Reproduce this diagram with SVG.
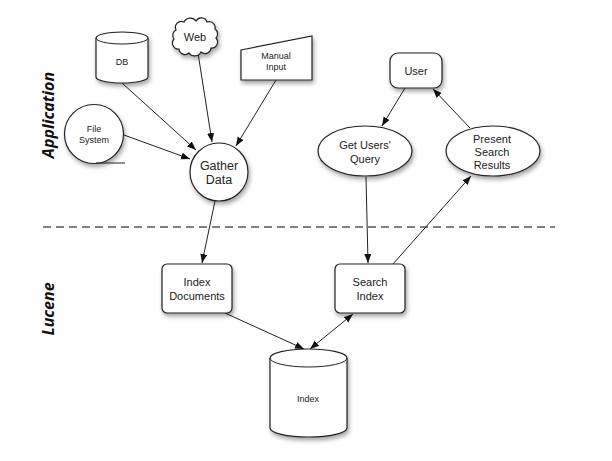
<svg xmlns="http://www.w3.org/2000/svg" width="612" height="461" viewBox="0 0 612 461">
<style>
.shape{fill:#fff;stroke:#222;stroke-width:1.2;filter:url(#sh)}
.line{fill:none;stroke:#222;stroke-width:1}
.arr{marker-end:url(#ah)}
.t{font-family:"Liberation Sans",Arial,sans-serif;fill:#222;text-anchor:middle}
.s9{font-size:9px}
.s11{font-size:11px}
.s12{font-size:12.5px}
.lane{font-family:"Noto Sans","DejaVu Sans",sans-serif;font-weight:bold;font-style:italic;font-size:16px;fill:#111;text-anchor:middle}
</style>
<defs>
<filter id="sh" x="-30%" y="-30%" width="160%" height="160%">
<feDropShadow dx="1.5" dy="3" stdDeviation="2" flood-color="#000" flood-opacity="0.35"/>
</filter>
<marker id="ah" markerUnits="userSpaceOnUse" markerWidth="10" markerHeight="8" refX="9" refY="3.5" orient="auto-start-reverse">
<path d="M0,0 L9,3.5 L0,7 z" fill="#111"/>
</marker>
</defs>
<rect width="612" height="461" fill="#fff"/>

<text class="lane" transform="translate(54,115) rotate(-90)">Application</text>
<text class="lane" transform="translate(54,309) rotate(-90)">Lucene</text>
<line x1="43" y1="227" x2="555" y2="227" stroke="#555" stroke-width="1.3" stroke-dasharray="8,5"/>

<g id="connectors">
<line class="line arr" x1="122" y1="83" x2="196" y2="150"/>
<line class="line arr" x1="198" y1="53" x2="212" y2="142"/>
<line class="line arr" x1="276" y1="80" x2="236" y2="146"/>
<line class="line arr" x1="124" y1="135" x2="190" y2="159"/>
<line class="line arr" x1="215" y1="201" x2="202" y2="263"/>
<line class="line arr" x1="405" y1="88" x2="382" y2="126"/>
<line class="line arr" x1="470" y1="128" x2="433" y2="89"/>
<line class="line arr" x1="366" y1="177" x2="368" y2="263"/>
<line class="line arr" x1="393" y1="264" x2="471" y2="176"/>
<line class="line arr" x1="225" y1="313" x2="304" y2="349"/>
<line class="line arr" x1="353" y1="314" x2="310" y2="349" marker-start="url(#ah)"/>
</g>

<g id="db">
<path class="shape" d="M96,38 A26,6 0 0 1 148,38 L148,77 A26,6 0 0 1 96,77 Z"/>
<path class="line" d="M96,38 A26,6 0 0 0 148,38" stroke-width="1.2"/>
<text class="t s9" x="122" y="65">DB</text>
</g>

<g id="web">
<path class="shape" d="M176,30 a6,6 0 0 1 8,-8 a7,7 0 0 1 12,-1 a6,6 0 0 1 11,1 a6,6 0 0 1 8,7 a6,6 0 0 1 1,9 a6,6 0 0 1 -5,10 a6,6 0 0 1 -10,4 a7,7 0 0 1 -12,1 a6,6 0 0 1 -10,-4 a6,6 0 0 1 -5,-10 a6,6 0 0 1 2,-9 Z"/>
<text class="t s11" x="195" y="41">Web</text>
</g>

<g id="manual-input">
<polygon class="shape" points="241,50 312,36 312,80 241,80"/>
<text class="t s9" x="276" y="59">Manual</text>
<text class="t s9" x="276" y="70">Input</text>
</g>

<g id="file-system">
<circle class="shape" cx="94" cy="134" r="29.5"/>
<line class="line" x1="96" y1="163" x2="125" y2="163"/>
<text class="t s9" x="94" y="132">File</text>
<text class="t s9" x="94" y="143">System</text>
</g>

<g id="gather-data">
<circle class="shape" cx="219" cy="172" r="29"/>
<text class="t s12" x="219" y="170">Gather</text>
<text class="t s12" x="219" y="184">Data</text>
</g>

<g id="user">
<rect class="shape" x="390" y="53" width="52" height="35" rx="8"/>
<text class="t s11" x="416" y="75">User</text>
</g>

<g id="get-users-query">
<ellipse class="shape" cx="365" cy="151" rx="47" ry="25"/>
<text class="t s11" x="365" y="149">Get Users'</text>
<text class="t s11" x="365" y="163">Query</text>
</g>

<g id="present-search-results">
<ellipse class="shape" cx="493" cy="151" rx="47" ry="25"/>
<text class="t s11" x="492" y="143">Present</text>
<text class="t s11" x="492" y="156">Search</text>
<text class="t s11" x="492" y="169">Results</text>
</g>

<g id="index-documents">
<rect class="shape" x="162" y="264" width="70" height="49" rx="5"/>
<text class="t s11" x="197" y="286">Index</text>
<text class="t s11" x="197" y="300">Documents</text>
</g>

<g id="search-index">
<rect class="shape" x="335" y="264" width="70" height="49" rx="5"/>
<text class="t s11" x="370" y="286">Search</text>
<text class="t s11" x="370" y="300">Index</text>
</g>

<g id="index">
<path class="shape" d="M270,358 A38.5,9 0 0 1 347,358 L347,428 A38.5,9 0 0 1 270,428 Z"/>
<path class="line" d="M270,358 A38.5,9 0 0 0 347,358" stroke-width="1.2"/>
<text class="t s9" x="308" y="402">Index</text>
</g>
</svg>
